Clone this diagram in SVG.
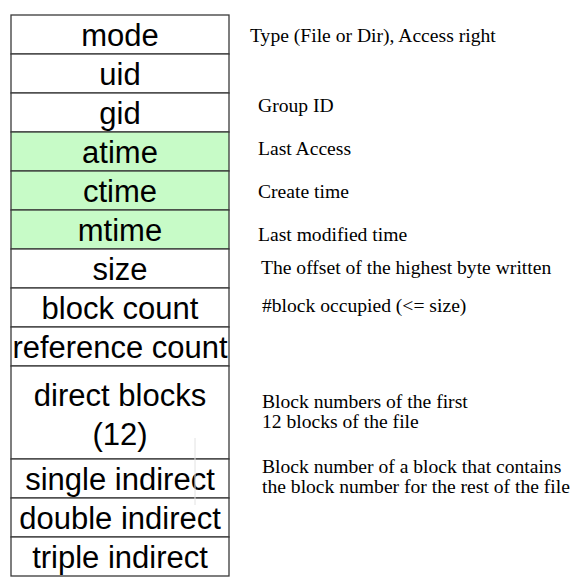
<svg xmlns="http://www.w3.org/2000/svg" width="580" height="588" viewBox="0 0 580 588">
  <style>
    .cell { fill: #ffffff; stroke: #3a3a3a; stroke-width: 1.3; }
    .time { fill: #c7fbc7; }
    .field { font-family: "Liberation Sans", Arial, sans-serif; font-size: 31px; fill: #000000; text-anchor: middle; }
    .note { font-family: "Liberation Serif", "Times New Roman", serif; font-size: 19.6px; fill: #000000; }
  </style>
  <rect width="580" height="588" fill="#ffffff"/>

  <!-- inode fields, top to bottom -->
  <g id="mode"><rect class="cell" x="11" y="15" width="218" height="39"/><text class="field" x="120" y="46">mode</text></g>
  <g id="uid"><rect class="cell" x="11" y="54" width="218" height="39"/><text class="field" x="120" y="85">uid</text></g>
  <g id="gid"><rect class="cell" x="11" y="93" width="218" height="39"/><text class="field" x="120" y="124">gid</text></g>
  <g id="atime"><rect class="cell time" x="11" y="132" width="218" height="39"/><text class="field" x="120" y="163">atime</text></g>
  <g id="ctime"><rect class="cell time" x="11" y="171" width="218" height="39"/><text class="field" x="120" y="202">ctime</text></g>
  <g id="mtime"><rect class="cell time" x="11" y="210" width="218" height="39"/><text class="field" x="120" y="241">mtime</text></g>
  <g id="size"><rect class="cell" x="11" y="249" width="218" height="39"/><text class="field" x="120" y="280">size</text></g>
  <g id="block-count"><rect class="cell" x="11" y="288" width="218" height="39"/><text class="field" x="120" y="319">block count</text></g>
  <g id="reference-count"><rect class="cell" x="11" y="327" width="218" height="39"/><text class="field" x="120" y="358" textLength="215" lengthAdjust="spacingAndGlyphs">reference count</text></g>
  <g id="direct-blocks"><rect class="cell" x="11" y="366" width="218" height="93"/>
    <text class="field" x="120" y="406">direct blocks</text>
    <text class="field" x="120" y="445">(12)</text>
  </g>
  <g id="single-indirect"><rect class="cell" x="11" y="459" width="218" height="39"/><text class="field" x="120" y="490">single indirect</text></g>
  <g id="double-indirect"><rect class="cell" x="11" y="498" width="218" height="39"/><text class="field" x="120" y="529">double indirect</text></g>
  <g id="triple-indirect"><rect class="cell" x="11" y="537" width="218" height="39"/><text class="field" x="120" y="568">triple indirect</text></g>

  <!-- faint guide line inside the block-pointer rows -->
  <line x1="195" y1="438" x2="195" y2="505" stroke="#e2e2e2" stroke-width="1"/>

  <!-- field descriptions -->
  <g id="notes">
    <text class="note" x="250" y="42">Type (File or Dir), Access right</text>
    <text class="note" x="258" y="112">Group ID</text>
    <text class="note" x="258" y="155">Last Access</text>
    <text class="note" x="258" y="198">Create time</text>
    <text class="note" x="258" y="241">Last modified time</text>
    <text class="note" x="261" y="274">The offset of the highest byte written</text>
    <text class="note" x="262" y="312">#block occupied (&lt;= size)</text>
    <text class="note" x="262" y="408">Block numbers of the first</text>
    <text class="note" x="262" y="428">12 blocks of the file</text>
    <text class="note" x="262" y="473">Block number of a block that contains</text>
    <text class="note" x="262" y="493">the block number for the rest of the file</text>
  </g>
</svg>
